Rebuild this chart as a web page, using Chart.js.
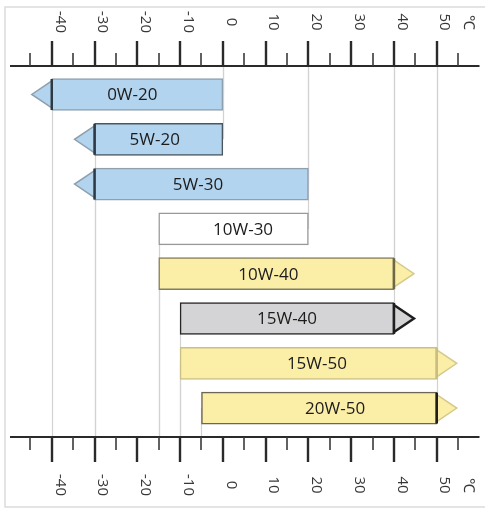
<!DOCTYPE html>
<html>
<head>
<meta charset="utf-8">
<script src="https://cdn.jsdelivr.net/npm/chart.js@4/dist/chart.umd.min.js"></script>
<style>
  html, body { margin: 0; padding: 0; background: #ffffff; }
  #wrap { position: relative; width: 485px; height: 509px; }
</style>
</head>
<body>
<div id="wrap"><canvas id="c"></canvas></div>
<script>
// ---- data ----
const grades   = ['0W-20', '5W-20', '5W-30', '10W-30', '10W-40', '15W-40', '15W-50', '20W-50'];
const lowTemp  = [-40, -30, -30, -15, -15, -10, -10, -5];
const highTemp = [0, 0, 20, 20, 40, 40, 50, 50];
const majorTicks = [-40, -30, -20, -10, 0, 10, 20, 30, 40, 50];
const minorTicks = [-45, -35, -25, -15, -5, 5, 15, 25, 35, 45, 55];
const tickLabels = ['-40', '-30', '-20', '-10', '0', '10', '20', '30', '40', '50'];
const unitLabel = '℃';

// ---- styles ----
const fills   = ['#b3d4ee', '#b3d4ee', '#b3d4ee', '#ffffff', '#fbefa8', '#d4d4d6', '#fbefa8', '#fbefa8'];
const borders = ['#8e9fae', '#4a5660', '#8e9fae', '#999999', '#857d5a', '#262626', '#cbbf86', '#6d6650'];
const edges   = ['#2d3944', '#2d3944', '#2d3944', null, '#6f6845', '#1e1e1e', '#c9bd84', '#1e1e1e'];
const arrows  = ['left', 'left', 'left', null, 'right', 'right', 'right', 'right'];
const arrowStrokes = ['#8e9fae', '#8e9fae', '#8e9fae', null, '#d5c98c', '#1e1e1e', '#d5c98c', '#d5c98c'];
const arrowWidths  = [1.5, 1.5, 1.5, 0, 1.5, 2.5, 1.5, 1.5];
const labelShift = [-5, -4, -3.5, 9.5, -8, 0, 8.5, 16];

const decor = {
  id: 'decor',
  beforeDraw(chart) {
    const ctx = chart.ctx;
    ctx.save();
    ctx.fillStyle = '#ffffff';
    ctx.fillRect(0, 0, chart.width, chart.height);
    ctx.strokeStyle = '#dcdcdc';
    ctx.lineWidth = 1.5;
    ctx.beginPath();
    ctx.moveTo(chart.width + 2, 7);
    ctx.lineTo(5, 7);
    ctx.lineTo(5, 507);
    ctx.lineTo(chart.width + 2, 507);
    ctx.stroke();
    ctx.restore();
  },
  beforeDatasetsDraw(chart) {
    const ctx = chart.ctx, xs = chart.scales.x, ys = chart.scales.y, a = chart.chartArea;
    ctx.save();
    ctx.strokeStyle = '#d2d2d2';
    ctx.lineWidth = 1.2;
    grades.forEach((g, i) => {
      const yc = ys.getPixelForValue(i);
      const x0 = Math.round(xs.getPixelForValue(lowTemp[i])) + 0.5;
      const x1 = Math.round(xs.getPixelForValue(highTemp[i])) + 0.5;
      ctx.beginPath();
      ctx.moveTo(x0, yc); ctx.lineTo(x0, a.bottom);
      ctx.moveTo(x1, yc); ctx.lineTo(x1, a.top);
      ctx.stroke();
    });
    ctx.restore();
  },
  afterDatasetsDraw(chart) {
    const ctx = chart.ctx, xs = chart.scales.x, a = chart.chartArea;
    const meta = chart.getDatasetMeta(0);
    ctx.save();
    meta.data.forEach((el, i) => {
      const p = el.getProps(['x', 'y', 'base', 'height'], true);
      const left = Math.min(p.x, p.base), right = Math.max(p.x, p.base);
      const top = p.y - p.height / 2, bot = p.y + p.height / 2;
      const inset = 2.5, aw = 20;
      if (arrows[i]) {
        const bx = arrows[i] === 'left' ? left : right;
        const tip = arrows[i] === 'left' ? left - aw : right + aw;
        ctx.beginPath();
        ctx.moveTo(bx, top + inset);
        ctx.lineTo(tip, p.y);
        ctx.lineTo(bx, bot - inset);
        ctx.closePath();
        ctx.fillStyle = fills[i];
        ctx.fill();
        ctx.beginPath();
        ctx.moveTo(bx, top + inset);
        ctx.lineTo(tip, p.y);
        ctx.lineTo(bx, bot - inset);
        ctx.strokeStyle = arrowStrokes[i];
        ctx.lineWidth = arrowWidths[i];
        ctx.lineJoin = 'miter';
        ctx.stroke();
        if (edges[i]) {
          ctx.beginPath();
          ctx.moveTo(bx, top + 0.5);
          ctx.lineTo(bx, bot - 0.5);
          ctx.strokeStyle = edges[i];
          ctx.lineWidth = 2.5;
          ctx.stroke();
        }
      }
      ctx.fillStyle = '#1c1c1c';
      ctx.font = '17px "Open Sans", sans-serif';
      ctx.textAlign = 'center';
      ctx.textBaseline = 'middle';
      ctx.fillText(grades[i], (left + right) / 2 + labelShift[i], p.y + 1);
    });

    // axes (top and bottom)
    const axisYs = [a.top, a.bottom];
    axisYs.forEach((ay, k) => {
      const dir = k === 0 ? -1 : 1;
      ctx.strokeStyle = '#2a2a2a';
      ctx.lineWidth = 2;
      ctx.beginPath();
      ctx.moveTo(a.left + 1, ay);
      ctx.lineTo(a.right, ay);
      ctx.stroke();
      ctx.lineWidth = 2.4;
      majorTicks.forEach(v => {
        const px = Math.round(xs.getPixelForValue(v));
        ctx.beginPath();
        ctx.moveTo(px, ay);
        ctx.lineTo(px, ay + dir * 25);
        ctx.stroke();
      });
      ctx.lineWidth = 1.6;
      ctx.strokeStyle = '#3a3a3a';
      minorTicks.forEach(v => {
        const px = Math.round(xs.getPixelForValue(v));
        ctx.beginPath();
        ctx.moveTo(px, ay);
        ctx.lineTo(px, ay + dir * 13);
        ctx.stroke();
      });
      const ly = k === 0 ? ay - 44 : ay + 48;
      ctx.fillStyle = '#383838';
      ctx.font = '15px "Open Sans", sans-serif';
      ctx.textAlign = 'center';
      ctx.textBaseline = 'middle';
      const drawRot = (txt, x) => {
        ctx.save();
        ctx.translate(x, ly);
        ctx.rotate(Math.PI / 2);
        ctx.fillText(txt, 0, 0);
        ctx.restore();
      };
      majorTicks.forEach((v, j) => drawRot(tickLabels[j], xs.getPixelForValue(v) + 8));
      drawRot(unitLabel, xs.getPixelForValue(majorTicks[majorTicks.length - 1]) + 32);
    });
    ctx.restore();
  }
};

new Chart(document.getElementById('c'), {
  type: 'bar',
  data: {
    datasets: [{
      data: grades.map((g, i) => ({ x: [lowTemp[i], highTemp[i]], y: i })),
      backgroundColor: fills,
      borderColor: borders,
      borderWidth: 1.5,
      borderSkipped: false,
      barThickness: 32
    }]
  },
  options: {
    indexAxis: 'y',
    responsive: true,
    maintainAspectRatio: false,
    animation: false,
    layout: { padding: { top: 66, bottom: 72, left: 9, right: 5.5 } },
    scales: {
      x: { type: 'linear', min: -50, max: 60, display: false },
      y: { type: 'linear', min: -0.636, max: 7.645, reverse: true, offset: false, display: false }
    },
    plugins: { legend: { display: false }, tooltip: { enabled: false } }
  },
  plugins: [decor]
});
</script>
</body>
</html>
